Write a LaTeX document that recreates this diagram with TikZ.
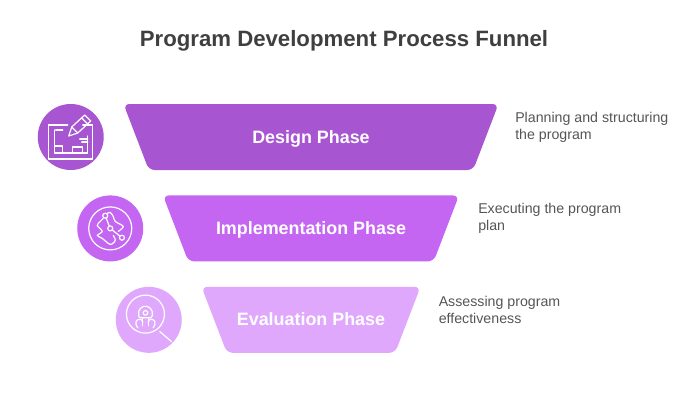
\documentclass[tikz,border=0pt]{standalone}
\usepackage{fontspec}
\setmainfont{Liberation Sans}
\usetikzlibrary{positioning, shapes.geometric}
\definecolor{designpurple}{HTML}{A855D2}
\definecolor{implpurple}{HTML}{C466F2}
\definecolor{evalpurple}{HTML}{E0A8FC}
\definecolor{labelgray}{HTML}{555555}
\definecolor{titlegray}{HTML}{3F3F3F}
\tikzset{
  phase/.style={trapezium, shape border rotate=180, trapezium stretches body=true, trapezium left angle=69, trapezium right angle=69,
    rounded corners=6pt, text height=39pt, text depth=27pt, text=white, font=\fontsize{17.9}{20}\selectfont\bfseries},
  badge/.style={circle, minimum size=66pt},
  blurb/.style={align=left, text=labelgray, font=\fontsize{14.2}{17}\selectfont},
  iconl/.style={draw=white, line width=1.2pt, line join=round, line cap=round},
  every node/.style={inner sep=0}
}
\begin{document}
\begin{tikzpicture}[x=1pt, y=1pt]
    \useasboundingbox (0,0) rectangle (700,400);
    \node[font=\fontsize{22.2}{26}\selectfont\bfseries, text=titlegray] (title) at (344,359.5) {Program Development Process Funnel};
    \node[phase, fill=designpurple, minimum width=375pt] (design) at (311,263) {Design Phase};
    \node[phase, fill=implpurple, minimum width=296pt, below=25pt of design] (impl) {Implementation Phase};
    \node[phase, fill=evalpurple, minimum width=219pt, below=25pt of impl] (eval) {Evaluation Phase};
    \node[badge, fill=designpurple, left=32pt of design] (designicon) {};
    \node[badge, fill=implpurple, left=32pt of impl] (implicon) {};
    \node[badge, fill=evalpurple, left=32pt of eval] (evalicon) {};
    \node[blurb, right=29pt of design, yshift=10pt] (designtext) {Planning and structuring\\the program};
    \node[blurb, right=31.5pt of impl, yshift=10pt] (impltext) {Executing the program\\plan};
    \node[blurb, right=30.5pt of eval, yshift=10pt] (evaltext) {Assessing program\\effectiveness};
    % board and pencil
    \begin{scope}[shift={(designicon.center)}, yscale=-1, iconl]
      \draw (-3,-12) -- (-22,-12) -- (-22,22) -- (22,22) -- (22,-12) -- (12,-12);
      \draw (-15,-7) -- (-8,-7);
      \draw (-16,-7) -- (-16,16) -- (17,16) -- (17,-1);
      \draw (-16,9) -- (-8,9) -- (-8,16);
      \draw (2,16) -- (2,10) -- (12,10) -- (12,16);
      \draw (9,2) -- (17,2);
      \draw (11,5) -- (17,5);
      \draw (-2,-1) -- (1,-10) -- (14,-22) -- (20,-16) -- (7,-4) -- cycle;
      \draw (1,-10) -- (7,-4);
      \draw (11,-19) -- (17,-13);
    \end{scope}
    % network inside a ring
    \begin{scope}[shift={(implicon.center)}, yscale=-1, iconl]
      \draw (0,0) circle (21.5);
      \draw (-5,-12.7) circle (2.5);
      \draw (0,0) circle (2.5);
      \draw (11.7,9.3) circle (2.5);
      \draw (-4,-10.3) -- (-1,-2.3);
      \draw (2,1.6) -- (9.7,7.7);
      \draw plot[smooth] coordinates {(-3,-15) (0,-16) (3,-12) (5,-7) (13,-2) (8,3)};
      \draw plot[smooth] coordinates {(-7,-10) (-10,-7) (-13,-3) (-8,3) (-13,7) (-8,10) (0,16) (5,12) (3,7)};
    \end{scope}
    % magnifier over a robot head
    \begin{scope}[shift={(evalicon.center)}, yscale=-1, iconl]
      \draw (-3.3,-5.7) circle (19);
      \draw (11,11.7) -- (22.7,21.7);
      \draw (-3.3,-7) circle (2.3);
      \draw[rounded corners=2pt] (-10,-2) -- (-10,-10.5) -- (-3.3,-14.5) -- (3.4,-10.5) -- (3.4,-2) -- cycle;
      \draw (-6,-2) -- (-6,6);
      \draw (-0.6,-2) -- (-0.6,6);
      \draw (-11,8) .. controls (-15,2) and (-12,-1) .. (-8,-0.5) .. controls (-7,0) and (-6,1) .. (-6,3);
      \draw (4.4,8) .. controls (8.4,2) and (5.4,-1) .. (1.4,-0.5) .. controls (0.4,0) and (-0.6,1) .. (-0.6,3);
    \end{scope}
\end{tikzpicture}
\end{document}
